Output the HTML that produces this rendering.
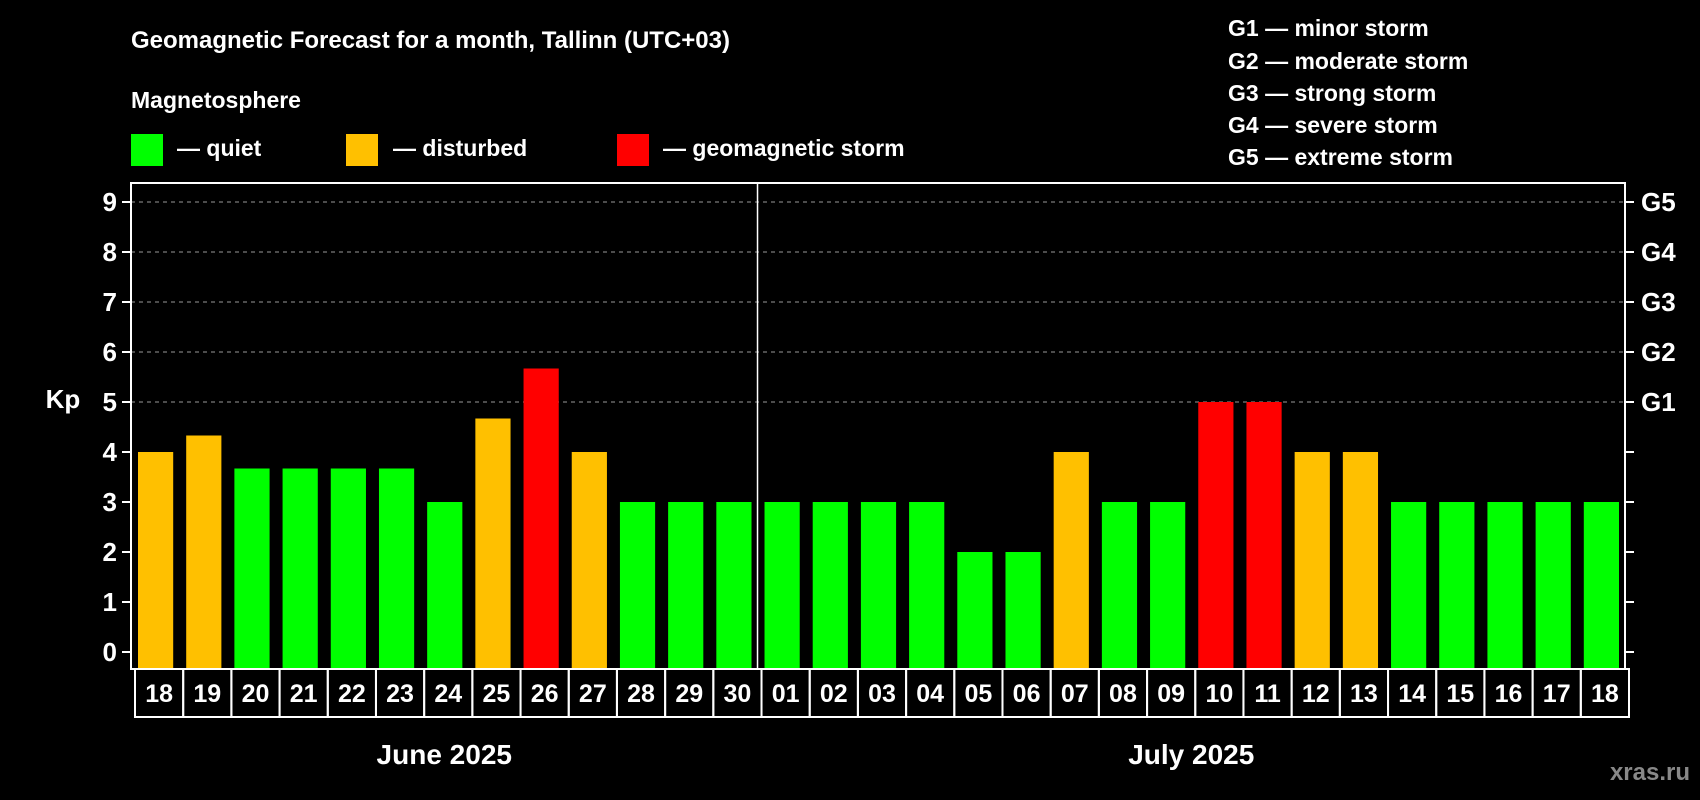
<!DOCTYPE html>
<html><head><meta charset="utf-8"><style>
html,body{margin:0;padding:0;background:#000;}
svg{display:block;font-family:"Liberation Sans",Arial,sans-serif;font-weight:bold;}
</style></head><body>
<svg id="chart" width="1700" height="800" viewBox="0 0 1700 800">
<rect width="1700" height="800" fill="#000"/>
<text x="131" y="48" fill="#fff" font-size="24">Geomagnetic Forecast for a month, Tallinn (UTC+03)</text>
<text x="131" y="108" fill="#fff" font-size="23">Magnetosphere</text>
<g><rect x="131" y="134" width="32" height="32" fill="#00ff00"/><text x="177" y="156" fill="#fff" font-size="23">— quiet</text></g>
<g><rect x="346" y="134" width="32" height="32" fill="#ffc000"/><text x="393" y="156" fill="#fff" font-size="23">— disturbed</text></g>
<g><rect x="617" y="134" width="32" height="32" fill="#ff0000"/><text x="663" y="156" fill="#fff" font-size="23">— geomagnetic storm</text></g>
<g fill="#fff" font-size="23">
<text x="1228" y="36">G1 — minor storm</text>
<text x="1228" y="69">G2 — moderate storm</text>
<text x="1228" y="101">G3 — strong storm</text>
<text x="1228" y="133">G4 — severe storm</text>
<text x="1228" y="165">G5 — extreme storm</text>
</g>
<text x="63" y="408" fill="#fff" font-size="26" text-anchor="middle">Kp</text>
<text x="1690" y="780" fill="#888" font-size="24" text-anchor="end">xras.ru</text>
<g id="grid"></g><g id="bars"></g><g id="axes"></g><g id="dates"></g>
</svg>
<script>
const days = ["18","19","20","21","22","23","24","25","26","27","28","29","30","01","02","03","04","05","06","07","08","09","10","11","12","13","14","15","16","17","18"];
const kpValues = [4,4.33,3.67,3.67,3.67,3.67,3,4.67,5.67,4,3,3,3,3,3,3,3,2,2,4,3,3,5,5,4,4,3,3,3,3,3];
const levels = ["d","d","q","q","q","q","q","d","s","d","q","q","q","q","q","q","q","q","q","d","q","q","s","s","d","d","q","q","q","q","q"];
const yTicks = [0,1,2,3,4,5,6,7,8,9];
const gLabels = [[5,"G1"],[6,"G2"],[7,"G3"],[8,"G4"],[9,"G5"]];
const months = [["June 2025",0,13],["July 2025",13,31]];

const NS="http://www.w3.org/2000/svg";
const L=131,R=1625,T=183,B=669,Y0=652,PU=50;
const step=(R-L)/days.length;
const xs=i=>L+i*step;
const ys=v=>Y0-v*PU;
const col={q:"#00ff00",d:"#ffc000",s:"#ff0000"};
function mk(tag,attrs,parent){const e=document.createElementNS(NS,tag);for(const k in attrs)e.setAttribute(k,attrs[k]);parent.appendChild(e);return e;}
const grid=document.getElementById('grid'),bars=document.getElementById('bars'),axes=document.getElementById('axes'),dates=document.getElementById('dates');
yTicks.forEach(v=>{
  if(v>=5){const g=mk('line',{x1:L,x2:R,y1:ys(v),y2:ys(v),stroke:"#999","stroke-dasharray":"4 4","stroke-width":1},grid);
  
  }
  const t=mk('line',{x1:L-9,x2:L,y1:ys(v),y2:ys(v),stroke:"#fff","stroke-width":2},axes);
  
  
  const t2=mk('line',{x1:R,x2:R+9,y1:ys(v),y2:ys(v),stroke:"#fff","stroke-width":2},axes);
  
  
  const lb=mk('text',{x:L-14,y:ys(v)+9,fill:"#fff","font-size":26,"text-anchor":"end"},axes);
  lb.textContent=v;
  
  
});
gLabels.forEach(g=>{
  const lb=mk('text',{x:R+16,y:ys(g[0])+9,fill:"#fff","font-size":26},axes);
  lb.textContent=g[1];
  
  
});
kpValues.forEach((v,i)=>{
  const b=mk('rect',{x:xs(i)+7,y:ys(v),width:step-13,height:B-1-ys(v),fill:col[levels[i]]},bars);
  
  
});
const frame=mk('rect',{x:L,y:T,width:R-L,height:B-T,fill:"none",stroke:"#fff","stroke-width":2},axes);


const dv=mk('line',{x1:xs(13),x2:xs(13),y1:T,y2:B,stroke:"#fff","stroke-width":1.5},axes);


days.forEach((d,i)=>{
  const c=mk('rect',{x:xs(i)+4,y:B,width:step,height:48,fill:"none",stroke:"#fff","stroke-width":2},dates);
  
  
  const t=mk('text',{x:xs(i)+4+step/2,y:B+33,fill:"#fff","font-size":25,"text-anchor":"middle"},dates);
  t.textContent=d;
  
  
});
months.forEach(m=>{
  const t=mk('text',{x:(xs(m[1])+xs(m[2]))/2,y:764,fill:"#fff","font-size":28,"text-anchor":"middle"},dates);
  t.textContent=m[0];
  
  
});
</script>
</body></html>
